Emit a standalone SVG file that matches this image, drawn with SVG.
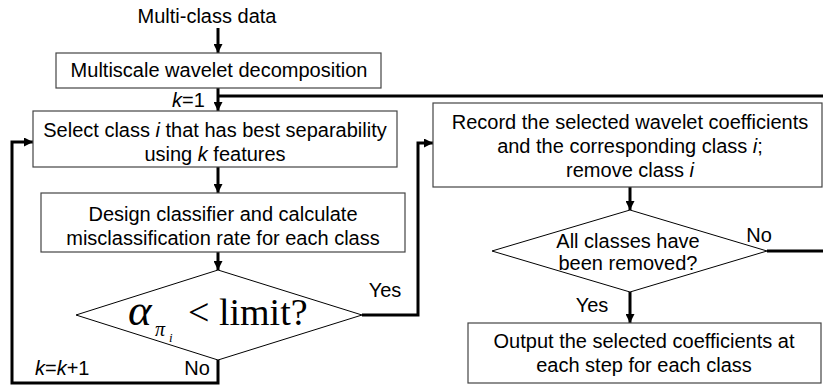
<svg xmlns="http://www.w3.org/2000/svg" width="823" height="385" viewBox="0 0 823 385">
<defs>
<marker id="ah" viewBox="0 0 10 10" refX="10" refY="5" markerWidth="3" markerHeight="3" orient="auto" markerUnits="strokeWidth">
<path d="M0,0 L10,5 L0,10 z" fill="#000"/>
</marker>
<style>
.box{fill:#fff;stroke:#444;stroke-width:1.2}
.dia{fill:#fff;stroke:#000;stroke-width:1}
.t{font-family:"Liberation Sans",Arial,sans-serif;font-size:20px;fill:#000;text-anchor:middle}
.l{font-family:"Liberation Sans",Arial,sans-serif;font-size:20px;fill:#000}
.c{fill:none;stroke:#000;stroke-width:3}
.ca{fill:none;stroke:#000;stroke-width:3;marker-end:url(#ah)}
.m{font-family:"Liberation Serif","Times New Roman",serif;fill:#000}
</style>
</defs>
<rect width="823" height="385" fill="#fff"/>
<g id="connectors">
<line class="ca" x1="218" y1="28" x2="218" y2="53"/>
<line class="ca" x1="218" y1="88" x2="218" y2="111"/>
<polyline class="c" points="218,96 823,96"/>
<line class="ca" x1="218" y1="167" x2="218" y2="193"/>
<line class="ca" x1="218" y1="252" x2="218" y2="270"/>
<polyline class="ca" points="362,315 418,315 418,143 433,143"/>
<polyline class="ca" points="218,360 218,383 12,383 12,142 33,142"/>
<line class="ca" x1="630" y1="187" x2="630" y2="210"/>
<polyline class="c" points="767,251 823,251"/>
<line class="ca" x1="630" y1="292" x2="630" y2="323"/>
</g>
<g id="start"><text class="t" x="207" y="23">Multi-class data</text></g>
<g id="decomp">
<rect class="box" x="56" y="53" width="325" height="35"/>
<text class="t" x="219" y="77">Multiscale wavelet decomposition</text>
</g>
<g id="k1"><text class="l" x="172" y="107"><tspan font-style="italic">k</tspan>=1</text></g>
<g id="select">
<rect class="box" x="33" y="111" width="364" height="56"/>
<text class="t" x="215" y="137">Select class <tspan font-style="italic">i</tspan> that has best separability</text>
<text class="t" x="215" y="161">using <tspan font-style="italic">k</tspan> features</text>
</g>
<g id="design">
<rect class="box" x="41" y="193" width="364" height="59"/>
<text class="t" x="223" y="221">Design classifier and calculate</text>
<text class="t" x="223" y="245">misclassification rate for each class</text>
</g>
<g id="cond1">
<polygon class="dia" points="218,270 362,315 218,360 76,315"/>
<text class="m" x="128" y="325" font-size="45" font-style="italic">α</text>
<text class="m" x="155" y="336" font-size="20" font-style="italic">π</text>
<text class="m" x="169" y="342" font-size="13" font-style="italic">i</text>
<text class="m" x="188" y="325" font-size="38">&lt; limit?</text>
</g>
<g id="yes1"><text class="t" x="385" y="297">Yes</text></g>
<g id="no1"><text class="t" x="197" y="375">No</text></g>
<g id="kk1"><text class="l" x="35" y="375"><tspan font-style="italic">k</tspan>=<tspan font-style="italic">k</tspan>+1</text></g>
<g id="record">
<rect class="box" x="433" y="103" width="389" height="84"/>
<text class="t" x="630" y="129">Record the selected wavelet coefficients</text>
<text class="t" x="630" y="153">and the corresponding class <tspan font-style="italic">i</tspan>;</text>
<text class="t" x="630" y="177">remove class <tspan font-style="italic">i</tspan></text>
</g>
<g id="cond2">
<polygon class="dia" points="630,210 767,251 630,292 492,251"/>
<text class="t" x="628" y="248">All classes have</text>
<text class="t" x="628" y="270">been removed?</text>
</g>
<g id="no2"><text class="t" x="759" y="242">No</text></g>
<g id="yes2"><text class="t" x="592" y="312">Yes</text></g>
<g id="output">
<rect class="box" x="468" y="323" width="353" height="60"/>
<text class="t" x="644" y="348">Output the selected coefficients at</text>
<text class="t" x="644" y="372">each step for each class</text>
</g>
</svg>
